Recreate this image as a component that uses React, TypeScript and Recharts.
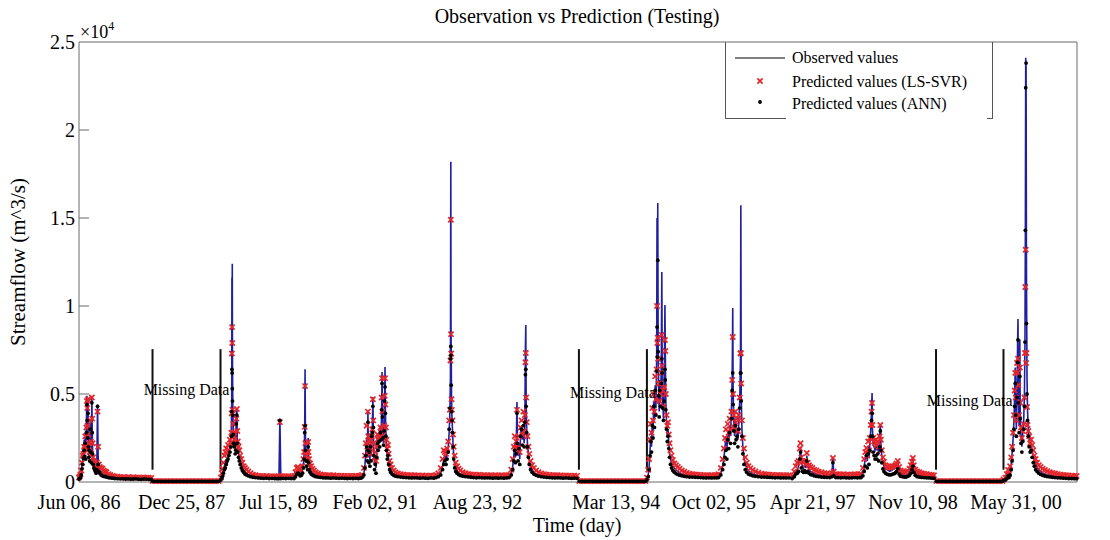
import React from 'react';
import { ComposedChart, Line, Scatter, XAxis, YAxis, ReferenceLine, Legend } from 'recharts';

type Row = [number, number, number, number]; // [day, observed, LS-SVR, ANN]

const seg1986: Row[] = [
  [0, 200, 260, 170], [4, 250, 320, 200], [8, 320, 420, 260], [12, 500, 650, 400],
  [16, 900, 1100, 750], [20, 1250, 1500, 1000], [24, 1700, 1600, 1350], [28, 2400, 2000, 1800],
  [31, 1600, 1850, 1450], [34, 2800, 2600, 2200], [37, 1800, 2000, 1300], [40, 3300, 3100, 2800],
  [43, 4900, 4600, 4400], [45, 3700, 4200, 3500], [47, 2600, 3200, 2500], [49, 4600, 4700, 3900],
  [51, 2100, 2700, 2000], [53, 1500, 2000, 1400], [55, 2400, 2200, 1800], [58, 1600, 1700, 1200],
  [61, 3400, 3500, 3000], [64, 2000, 2300, 1700], [67, 1400, 1600, 1100], [70, 4800, 4800, 4500],
  [72, 3000, 3600, 2800], [74, 1800, 2200, 1600], [77, 1200, 1400, 1000], [81, 1000, 1200, 800],
  [85, 900, 1100, 700], [89, 800, 1000, 600], [93, 700, 900, 500], [97, 1000, 1100, 700],
  [101, 4400, 4000, 4300], [104, 1500, 2000, 1000], [108, 800, 1000, 600], [113, 700, 850, 500],
  [120, 600, 800, 400], [127, 550, 750, 350], [134, 500, 650, 320], [142, 450, 600, 300],
  [150, 400, 550, 280], [160, 350, 450, 250], [170, 300, 400, 230], [182, 280, 350, 220],
  [195, 250, 320, 200], [210, 230, 300, 190], [225, 220, 280, 180], [240, 220, 270, 180],
  [254, 210, 260, 170], [268, 230, 280, 180], [282, 200, 250, 160], [296, 210, 270, 170],
  [310, 220, 260, 180], [324, 200, 250, 160], [338, 190, 240, 150], [352, 210, 260, 170],
  [366, 200, 250, 160], [380, 190, 240, 150], [393, 180, 230, 150],
];

const missing1: Row[] = [
  [400, 40, 50, 40], [415, 40, 50, 40], [430, 40, 50, 40], [445, 40, 50, 40], [460, 40, 50, 40],
  [475, 40, 50, 40], [490, 40, 50, 40], [505, 40, 50, 40], [520, 40, 50, 40], [535, 40, 50, 40],
  [550, 40, 50, 40], [565, 40, 50, 40], [580, 40, 50, 40], [595, 40, 50, 40], [610, 40, 50, 40],
  [625, 40, 50, 40], [640, 40, 50, 40], [655, 40, 50, 40], [670, 40, 50, 40], [685, 40, 50, 40],
  [700, 40, 50, 40], [715, 40, 50, 40], [730, 40, 50, 40], [745, 40, 50, 40], [760, 40, 50, 40],
];

const seg1988: Row[] = [
  [772, 150, 250, 120], [777, 300, 500, 220], [781, 450, 750, 320], [786, 700, 1100, 500],
  [791, 900, 1500, 700], [796, 1100, 1700, 800], [801, 1300, 1900, 1000], [806, 1000, 1600, 1200],
  [811, 1500, 2100, 1300], [816, 1700, 1800, 1500], [821, 2000, 2400, 1700], [826, 2500, 2200, 2000],
  [829, 3000, 2800, 2600], [831, 4500, 3900, 4000], [832, 11600, 7300, 6400], [833, 9000, 8800, 6200],
  [834, 12400, 7900, 5300], [835, 7000, 4100, 4600], [837, 4200, 3900, 3800], [839, 3000, 3300, 2700],
  [841, 2400, 2800, 2200], [844, 2200, 2600, 2000], [847, 2500, 2400, 2100], [850, 1800, 2200, 1600],
  [853, 2300, 2100, 1800], [856, 3800, 3600, 3300], [859, 4200, 4150, 3800], [861, 2500, 2900, 2200],
  [864, 1900, 2300, 1700], [868, 1600, 2000, 1400], [872, 1400, 1800, 1200], [877, 1200, 1500, 1000],
  [883, 1000, 1300, 800], [889, 850, 1100, 650], [896, 700, 900, 550], [903, 600, 800, 450],
  [911, 500, 700, 400], [921, 430, 600, 350], [933, 380, 500, 300], [946, 330, 420, 270],
  [960, 300, 380, 250], [975, 280, 350, 230], [990, 260, 340, 220], [1005, 250, 330, 210],
  [1020, 260, 340, 220], [1035, 240, 320, 200], [1050, 250, 330, 210], [1065, 240, 320, 200],
  [1078, 230, 310, 190], [1088, 250, 320, 200], [1093, 3600, 3400, 3500], [1098, 260, 330, 200],
  [1110, 250, 330, 210], [1125, 240, 320, 200], [1140, 250, 330, 210], [1155, 240, 320, 200],
  [1170, 250, 350, 200], [1178, 400, 550, 300], [1185, 600, 800, 450], [1191, 700, 850, 500],
  [1197, 600, 750, 450], [1203, 450, 600, 350], [1210, 500, 650, 380], [1216, 700, 900, 500],
  [1221, 1100, 1300, 800], [1225, 1600, 1700, 1300], [1228, 3000, 3130, 2800], [1230, 6400, 5450, 3200],
  [1232, 2500, 2200, 1800], [1235, 1500, 1700, 1200], [1238, 1200, 1500, 900], [1241, 1600, 1700, 1200],
  [1244, 1000, 1300, 700], [1247, 2500, 2270, 2000], [1249, 1500, 1700, 1100], [1252, 1000, 1300, 700],
  [1257, 800, 1050, 550], [1263, 650, 900, 450], [1270, 550, 750, 400], [1278, 450, 650, 350],
  [1288, 400, 550, 300], [1300, 350, 480, 280], [1314, 320, 430, 260], [1328, 300, 400, 240],
  [1342, 290, 390, 230], [1356, 280, 380, 230], [1370, 270, 370, 220], [1385, 280, 380, 230],
  [1400, 270, 360, 220], [1415, 260, 350, 210], [1430, 270, 360, 220], [1445, 260, 350, 210],
  [1460, 250, 340, 200], [1475, 260, 350, 210], [1490, 250, 340, 200], [1505, 260, 350, 210],
  [1520, 250, 340, 200], [1532, 270, 360, 220],
];

const seg1990: Row[] = [
  [1540, 300, 400, 250], [1550, 500, 800, 400], [1556, 1000, 1500, 800], [1561, 1800, 2200, 1500],
  [1565, 2500, 3200, 2000], [1569, 1500, 2000, 1200], [1572, 3980, 4000, 3400], [1574, 2200, 2600, 1800],
  [1577, 1400, 1800, 1100], [1580, 2000, 2300, 1700], [1583, 1200, 1600, 900], [1586, 2600, 2400, 2000],
  [1589, 1500, 1900, 1200], [1592, 2200, 2600, 2600], [1596, 3000, 3000, 2800], [1599, 4830, 4700, 4300],
  [1601, 3200, 3500, 3100], [1604, 1800, 2200, 1500], [1608, 1000, 1400, 700], [1612, 1400, 1700, 1000],
  [1616, 800, 1200, 500], [1620, 1800, 2000, 1400], [1624, 2500, 2700, 2200], [1628, 2000, 2400, 1800],
  [1632, 2800, 2500, 2300], [1636, 2300, 2600, 2000], [1640, 3200, 3100, 2800], [1644, 2600, 2800, 2400],
  [1647, 4500, 4800, 4100], [1649, 6250, 5900, 5600], [1651, 3500, 4000, 3700], [1654, 2600, 2900, 2500],
  [1657, 2200, 2500, 2100], [1660, 3000, 3200, 2900], [1663, 4800, 4900, 4600], [1665, 6530, 5900, 5400],
  [1667, 4000, 4400, 3900], [1670, 2800, 3100, 2600], [1673, 2000, 2400, 1800], [1677, 1500, 1900, 1300],
  [1681, 1700, 2100, 1500], [1685, 1200, 1600, 1000], [1690, 900, 1200, 700], [1696, 700, 1000, 550],
  [1703, 550, 800, 450], [1712, 450, 650, 380], [1722, 400, 550, 330], [1735, 350, 480, 300],
  [1750, 330, 450, 280], [1765, 310, 420, 260], [1780, 300, 400, 250], [1795, 290, 390, 240],
  [1810, 280, 380, 230], [1825, 290, 390, 240], [1840, 280, 370, 230], [1855, 270, 360, 220],
  [1870, 280, 370, 230], [1885, 270, 360, 220], [1900, 260, 350, 210], [1915, 280, 370, 230],
  [1930, 270, 360, 220], [1943, 300, 400, 250],
  [1955, 350, 500, 300], [1968, 500, 800, 400], [1978, 900, 1300, 700], [1985, 1300, 1800, 1000],
  [1991, 1500, 1700, 1200], [1997, 1200, 1600, 1000], [2003, 1600, 1900, 1300], [2009, 2000, 2300, 1700],
  [2014, 2800, 3500, 3000], [2018, 4000, 4100, 4200], [2021, 6000, 6900, 7000], [2023, 18200, 14900, 7700],
  [2024, 9000, 8400, 7200], [2025, 7500, 7300, 5500], [2027, 4800, 4700, 4000], [2029, 3800, 4100, 3500],
  [2032, 3000, 3500, 2800], [2035, 2200, 2700, 2000], [2039, 1500, 2000, 1300], [2044, 1000, 1500, 800],
  [2050, 800, 1100, 600], [2057, 650, 900, 500], [2065, 550, 750, 420], [2075, 450, 650, 370],
  [2088, 400, 550, 330], [2102, 370, 500, 310], [2117, 340, 460, 290], [2132, 320, 430, 270],
  [2147, 300, 410, 250], [2162, 290, 400, 240], [2177, 300, 410, 250], [2192, 290, 390, 240],
  [2207, 280, 380, 230], [2222, 290, 390, 240], [2237, 280, 380, 230], [2252, 270, 370, 220],
  [2267, 280, 380, 230], [2282, 270, 370, 220], [2297, 280, 380, 230], [2312, 270, 370, 220],
  [2327, 280, 380, 230],
];

const seg1992: Row[] = [
  [2340, 300, 400, 250], [2352, 500, 700, 400], [2360, 900, 1300, 700], [2366, 1500, 2000, 1200],
  [2371, 2200, 2600, 1800], [2375, 1400, 1900, 1100], [2379, 2000, 2300, 1600], [2383, 4540, 4100, 3900],
  [2385, 2500, 2100, 2200], [2389, 1500, 1900, 1200], [2393, 2200, 2600, 1900], [2398, 1300, 1700, 1000],
  [2403, 2800, 3100, 2600], [2408, 3200, 3500, 3000], [2413, 2400, 2700, 2100], [2418, 3000, 4000, 3200],
  [2422, 2200, 2900, 2000], [2426, 3500, 3800, 3400], [2429, 7700, 6800, 6100], [2431, 8920, 7330, 6400],
  [2433, 4400, 4800, 4300], [2436, 3000, 3400, 2800], [2440, 2200, 2600, 2000], [2445, 1600, 2000, 1400],
  [2450, 1200, 1600, 1000], [2457, 900, 1200, 700], [2465, 700, 950, 550], [2475, 550, 800, 450],
  [2487, 450, 650, 380], [2500, 400, 550, 330], [2515, 350, 480, 300], [2530, 330, 450, 280],
  [2545, 310, 420, 260], [2560, 300, 400, 250], [2575, 290, 390, 240], [2590, 280, 380, 230],
  [2605, 290, 390, 240], [2620, 280, 370, 230], [2635, 270, 360, 220], [2650, 280, 370, 230],
  [2665, 270, 360, 220], [2680, 260, 350, 210], [2695, 270, 360, 220], [2710, 260, 350, 210],
];

const missing2: Row[] = [
  [2722, 40, 50, 40], [2737, 40, 50, 40], [2752, 40, 50, 40], [2767, 40, 50, 40], [2782, 40, 50, 40],
  [2797, 40, 50, 40], [2812, 40, 50, 40], [2827, 40, 50, 40], [2842, 40, 50, 40], [2857, 40, 50, 40],
  [2872, 40, 50, 40], [2887, 40, 50, 40], [2902, 40, 50, 40], [2917, 40, 50, 40], [2932, 40, 50, 40],
  [2947, 40, 50, 40], [2962, 40, 50, 40], [2977, 40, 50, 40], [2992, 40, 50, 40], [3007, 40, 50, 40],
  [3022, 40, 50, 40], [3037, 40, 50, 40], [3052, 40, 50, 40], [3067, 40, 50, 40], [3082, 40, 50, 40],
];

const seg1994: Row[] = [
  [3090, 150, 250, 120], [3097, 400, 700, 300], [3102, 900, 1300, 700], [3107, 1800, 2400, 1500],
  [3111, 2600, 3300, 2300], [3115, 2000, 2800, 1700], [3119, 3500, 4200, 3200], [3123, 2800, 3500, 2500],
  [3127, 4600, 5000, 4300], [3131, 3500, 4000, 3100], [3135, 5500, 6000, 5200], [3139, 4200, 4700, 3800],
  [3143, 7000, 6400, 6300], [3145, 15000, 10000, 8800], [3147, 9000, 7900, 7100], [3149, 15850, 8200, 12600],
  [3151, 8000, 7000, 7400], [3154, 5200, 5600, 4900], [3157, 4000, 4600, 3700], [3160, 5800, 5600, 5200],
  [3164, 4500, 5000, 4300], [3168, 6500, 6200, 5600], [3171, 11930, 8350, 7000], [3173, 7000, 6600, 6200],
  [3176, 4500, 5200, 4200], [3180, 3600, 4300, 3500], [3184, 5000, 5400, 4600], [3188, 10050, 8070, 6400],
  [3190, 7400, 7440, 5800], [3193, 4500, 5000, 4100], [3197, 3300, 3800, 3000], [3201, 2600, 3200, 2300],
  [3205, 3000, 3400, 2600], [3209, 2200, 2700, 1900], [3213, 1700, 2200, 1400], [3218, 1300, 1800, 1000],
  [3224, 1100, 1500, 800], [3231, 900, 1250, 650], [3239, 780, 1050, 560], [3248, 680, 950, 480],
  [3258, 600, 850, 430], [3268, 530, 750, 390], [3280, 470, 660, 350], [3293, 420, 580, 320],
  [3307, 380, 520, 300], [3322, 350, 470, 280], [3337, 330, 450, 280], [3352, 310, 430, 270],
  [3367, 300, 410, 260], [3382, 300, 400, 250], [3397, 290, 390, 240], [3412, 280, 380, 230],
  [3427, 290, 390, 240], [3442, 280, 380, 230], [3457, 290, 390, 240], [3470, 290, 400, 240],
  [3480, 300, 450, 250], [3492, 500, 800, 400], [3502, 900, 1300, 700], [3509, 1400, 1900, 1000],
  [3515, 2000, 2500, 1400], [3520, 2600, 3000, 1800], [3525, 1800, 2400, 1300], [3530, 2900, 3300, 2400],
  [3535, 2300, 2800, 1900], [3540, 3200, 3600, 2800], [3545, 2600, 3000, 2200], [3550, 4200, 4000, 3600],
  [3554, 6000, 5800, 5200], [3557, 9890, 8240, 6200], [3559, 5200, 5000, 4400], [3563, 3400, 3800, 2900],
  [3567, 2600, 3100, 2200], [3571, 3600, 4000, 3200], [3575, 2800, 3400, 2400], [3580, 3000, 3600, 2600],
  [3585, 2400, 2900, 2000], [3590, 3400, 3800, 3000], [3595, 4600, 4800, 4200], [3599, 7000, 7300, 6200],
  [3601, 15730, 7330, 6190], [3603, 5000, 5600, 4600], [3607, 3000, 3500, 2600], [3612, 2000, 2500, 1600],
  [3618, 1400, 1900, 1000], [3625, 1000, 1400, 700], [3633, 800, 1100, 550], [3642, 650, 900, 450],
  [3653, 550, 780, 400], [3666, 480, 680, 350], [3680, 420, 600, 320], [3696, 380, 530, 300],
  [3713, 350, 470, 280], [3728, 330, 450, 280], [3743, 310, 430, 270], [3758, 300, 410, 260],
  [3773, 290, 400, 250], [3788, 280, 390, 240], [3803, 290, 400, 250], [3818, 280, 380, 230],
  [3833, 280, 390, 240], [3848, 270, 380, 230], [3863, 280, 390, 240],
];

const seg1997: Row[] = [
  [3880, 250, 350, 200], [3892, 400, 600, 300], [3900, 600, 900, 450], [3908, 700, 1100, 500],
  [3915, 900, 1200, 600], [3922, 1500, 1900, 1300], [3926, 2000, 2200, 1700], [3930, 1100, 1400, 800],
  [3936, 900, 1200, 600], [3942, 800, 1100, 550], [3948, 1000, 1200, 650], [3955, 800, 1000, 550],
  [3960, 1500, 1650, 1200], [3965, 900, 1100, 600], [3972, 700, 950, 500], [3980, 600, 850, 420],
  [3990, 550, 800, 400], [4000, 500, 700, 350], [4012, 450, 650, 320], [4025, 400, 580, 300],
  [4040, 380, 550, 280], [4055, 350, 500, 270], [4070, 330, 480, 260], [4085, 320, 460, 250],
  [4097, 400, 500, 300], [4102, 1400, 1360, 1100], [4106, 500, 600, 350], [4118, 320, 450, 250],
  [4130, 300, 440, 250], [4145, 290, 430, 240], [4160, 300, 440, 250], [4175, 290, 420, 240],
  [4190, 280, 420, 230], [4205, 290, 430, 240], [4220, 300, 440, 250], [4235, 290, 430, 240],
  [4248, 300, 440, 250],
  [4255, 300, 450, 250], [4265, 500, 800, 350], [4272, 900, 1300, 600], [4278, 1300, 1700, 900],
  [4284, 1800, 1930, 1500], [4289, 1200, 1500, 800], [4294, 2000, 2300, 1600], [4298, 1400, 1800, 1000],
  [4303, 2200, 2500, 1800], [4308, 3000, 3240, 2600], [4312, 4000, 4000, 3500], [4315, 5060, 4490, 3900],
  [4317, 3000, 3240, 2600], [4321, 2200, 2500, 1700], [4326, 2000, 2300, 1500], [4331, 1800, 2200, 1300],
  [4336, 2000, 2400, 1500], [4341, 1800, 2100, 1300], [4346, 2100, 2300, 1600], [4351, 1600, 2000, 1200],
  [4356, 2600, 2600, 2000], [4360, 3300, 3240, 2900], [4363, 2200, 2400, 1800], [4368, 1500, 1800, 1100],
  [4374, 1100, 1400, 750], [4380, 900, 1150, 600], [4388, 750, 950, 500], [4396, 700, 900, 450],
  [4404, 650, 850, 420], [4412, 600, 800, 400], [4420, 650, 850, 420], [4428, 700, 900, 450],
  [4436, 750, 900, 480], [4442, 800, 950, 520], [4448, 900, 1050, 600], [4455, 1100, 1200, 750],
  [4462, 700, 850, 450], [4470, 500, 650, 330], [4480, 420, 600, 300], [4490, 380, 550, 280],
  [4500, 380, 560, 280], [4510, 450, 620, 320], [4518, 550, 750, 380], [4526, 800, 950, 500],
  [4532, 1000, 1150, 700], [4537, 1300, 1360, 900], [4542, 800, 950, 550], [4550, 550, 700, 380],
  [4560, 420, 600, 300], [4572, 380, 550, 280], [4585, 350, 500, 260], [4598, 320, 470, 250],
  [4612, 300, 450, 240], [4626, 280, 420, 230], [4640, 260, 400, 220], [4652, 250, 380, 210],
];

const missing3: Row[] = [
  [4665, 40, 50, 40], [4680, 40, 50, 40], [4695, 40, 50, 40], [4710, 40, 50, 40], [4725, 40, 50, 40],
  [4740, 40, 50, 40], [4755, 40, 50, 40], [4770, 40, 50, 40], [4785, 40, 50, 40], [4800, 40, 50, 40],
  [4815, 40, 50, 40], [4830, 40, 50, 40], [4845, 40, 50, 40], [4860, 40, 50, 40], [4875, 40, 50, 40],
  [4890, 40, 50, 40], [4905, 40, 50, 40], [4920, 40, 50, 40], [4935, 40, 50, 40], [4950, 40, 50, 40],
  [4965, 40, 50, 40], [4980, 40, 50, 40], [4995, 40, 50, 40], [5010, 40, 50, 40], [5025, 40, 50, 40],
];

const seg1999: Row[] = [
  [5030, 100, 150, 90], [5040, 150, 250, 120], [5048, 300, 450, 200], [5055, 500, 680, 350],
  [5060, 350, 450, 250], [5066, 600, 900, 400], [5072, 1000, 1400, 700], [5077, 1600, 2000, 1200],
  [5082, 2400, 2800, 1800], [5087, 3500, 3800, 3000], [5091, 5000, 5200, 4300], [5094, 6500, 6200, 5600],
  [5097, 4200, 4800, 3800], [5100, 3000, 3500, 2600], [5104, 5200, 6760, 4800], [5107, 8000, 6200, 6800],
  [5109, 9260, 7000, 8070], [5111, 5000, 5500, 4500], [5115, 3200, 3800, 2800], [5119, 8100, 6500, 6000],
  [5121, 4000, 4500, 3600], [5125, 2600, 3100, 2200], [5130, 2000, 2500, 1700], [5135, 2800, 2900, 2300],
  [5140, 3500, 3300, 3000], [5144, 5000, 4800, 4300], [5147, 8000, 7330, 7950], [5149, 14000, 11080, 14300],
  [5151, 24100, 13200, 22400], [5153, 23500, 6760, 23800], [5155, 12000, 7330, 9000], [5158, 6000, 4260, 5000],
  [5161, 4000, 3240, 3500], [5165, 3000, 2900, 2600], [5170, 2400, 2600, 2000], [5175, 2000, 2200, 1700],
  [5180, 2200, 2400, 1800], [5186, 1800, 2100, 1400], [5192, 1500, 1800, 1100], [5198, 1200, 1500, 900],
  [5205, 1000, 1300, 700], [5213, 850, 1100, 600], [5222, 700, 950, 500], [5232, 600, 850, 430],
  [5243, 520, 750, 380], [5255, 460, 680, 340], [5268, 420, 620, 310], [5282, 380, 560, 290],
  [5296, 350, 520, 270], [5310, 320, 480, 250], [5325, 300, 450, 240], [5340, 280, 420, 230],
  [5355, 270, 400, 220], [5370, 260, 380, 210], [5385, 250, 370, 200], [5400, 240, 360, 200],
  [5415, 240, 350, 190], [5428, 230, 340, 190],
];

const xTickDays = [0, 558, 1085, 1611, 2168, 2922, 3455, 3991, 4538, 5098];
const xTickLabels = ['Jun 06, 86', 'Dec 25, 87', 'Jul 15, 89', 'Feb 02, 91', 'Aug 23, 92',
  'Mar 13, 94', 'Oct 02, 95', 'Apr 21, 97', 'Nov 10, 98', 'May 31, 00'];
const yTicks = [0, 5000, 10000, 15000, 20000, 25000];
const missingPeriods: [number, number][] = [[400, 770], [2720, 3090], [4663, 5030]];
const missingLabelLevels = [5250, 5080, 4660];
const missingLineRange: [number, number] = [700, 7550];

const rows = [...seg1986, ...missing1, ...seg1988, ...seg1990, ...seg1992, ...missing2,
  ...seg1994, ...seg1997, ...missing3, ...seg1999]
  .map(([day, observed, lssvr, ann]) => ({ day, observed, lssvr, ann }));

const FONT = '"Liberation Serif", "Times New Roman", Times, serif';
const BLUE = '#1f1fa0';
const RED = '#e3262b';
const AXIS = '#6b6b6b';

const XMark = (props: any) => {
  const { cx, cy } = props;
  if (cx == null || cy == null) return null;
  const s = 2.6;
  return (
    <g stroke={RED} strokeWidth={1.7}>
      <line x1={cx - s} y1={cy - s} x2={cx + s} y2={cy + s} />
      <line x1={cx - s} y1={cy + s} x2={cx + s} y2={cy - s} />
    </g>
  );
};

const DotMark = (props: any) => {
  const { cx, cy } = props;
  if (cx == null || cy == null) return null;
  return <circle cx={cx} cy={cy} r={1.9} fill="#000" />;
};

const LeftTick = (props: any) => {
  const { x, y, payload } = props;
  const v = payload.value;
  return (
    <g>
      <text x={x} y={y} dy="0.35em" textAnchor="end" fontSize={20} fill="#000" fontFamily={FONT}>
        {v / 10000}
      </text>
      {v > 0 && v < 25000 && <line x1={x + 4} x2={x + 14} y1={y} y2={y} stroke={AXIS} />}
    </g>
  );
};

const RightTick = (props: any) => {
  const { x, y, payload } = props;
  const v = payload.value;
  if (!(v > 0 && v < 25000)) return null;
  return <line x1={x - 10} x2={x} y1={y} y2={y} stroke={AXIS} />;
};

const LegendBox = () => (
  <svg width={270} height={80} style={{ display: 'block', overflow: 'visible' }} fontFamily={FONT}>
    <line x1={0.5} y1={0} x2={0.5} y2={76} stroke="#555" />
    <line x1={0} y1={76.5} x2={61} y2={76.5} stroke="#555" />
    <line x1={267.5} y1={0} x2={267.5} y2={77} stroke="#555" />
    <line x1={262} y1={76.5} x2={268} y2={76.5} stroke="#555" />
    <line x1={10} y1={16} x2={60} y2={16} stroke="#000" />
    <text x={67} y={21} fontSize={16} fill="#000">Observed values</text>
    <XMark cx={35} cy={39} />
    <text x={67} y={45} fontSize={16} fill="#000">Predicted values (LS-SVR)</text>
    <DotMark cx={35} cy={60} />
    <text x={67} y={67} fontSize={16} fill="#000">Predicted values (ANN)</text>
  </svg>
);

export default function App() {
  return (
    <div style={{ position: 'absolute', left: 0, top: 0, width: 1110, height: 540, background: '#fff', fontFamily: FONT, color: '#000' }}>
      <ComposedChart width={1110} height={540} data={rows} margin={{ top: 42, right: 23, bottom: 28, left: 0 }}>
        <XAxis
          dataKey="day"
          type="number"
          domain={[0, 5430]}
          ticks={xTickDays}
          interval={0}
          tickFormatter={(v: number) => xTickLabels[xTickDays.indexOf(v)] ?? ''}
          tick={{ fontSize: 20, fill: '#000', fontFamily: FONT }}
          tickLine={false}
          tickSize={0}
          tickMargin={13}
          height={30}
          axisLine={{ stroke: AXIS }}
        />
        <YAxis
          type="number"
          domain={[0, 25000]}
          ticks={yTicks}
          interval={0}
          tick={<LeftTick />}
          tickLine={false}
          tickSize={0}
          tickMargin={4}
          width={79}
          axisLine={{ stroke: AXIS }}
        />
        <YAxis
          yAxisId="right"
          orientation="right"
          type="number"
          domain={[0, 25000]}
          ticks={yTicks}
          interval={0}
          tick={<RightTick />}
          tickLine={false}
          tickSize={0}
          tickMargin={0}
          width={10}
          axisLine={{ stroke: AXIS }}
        />
        <ReferenceLine y={25000} stroke={AXIS} />
        {missingPeriods.map(([a, b], i) => (
          <ReferenceLine key={`ma${i}`} segment={[{ x: a, y: missingLineRange[0] }, { x: a, y: missingLineRange[1] }]} stroke="#111" strokeWidth={2} />
        ))}
        {missingPeriods.map(([a, b], i) => (
          <ReferenceLine key={`mb${i}`} segment={[{ x: b, y: missingLineRange[0] }, { x: b, y: missingLineRange[1] }]} stroke="#111" strokeWidth={2} />
        ))}
        {missingPeriods.map(([a, b], i) => (
          <ReferenceLine
            key={`ml${i}`}
            segment={[{ x: a, y: missingLabelLevels[i] }, { x: b, y: missingLabelLevels[i] }]}
            stroke="none"
            label={{ value: 'Missing Data', position: 'center', fontSize: 16, fill: '#000', fontFamily: FONT }}
          />
        ))}
        <Line dataKey="observed" type="linear" stroke={BLUE} strokeWidth={1.6} dot={false} activeDot={false} isAnimationActive={false} />
        <Scatter dataKey="lssvr" shape={XMark} isAnimationActive={false} />
        <Scatter dataKey="ann" shape={DotMark} isAnimationActive={false} />
        <Legend
          layout="vertical"
          align="center"
          verticalAlign="middle"
          wrapperStyle={{ position: 'absolute', left: 725, top: 42, width: 270, height: 80 }}
          content={() => <LegendBox />}
        />
      </ComposedChart>
      <div style={{ position: 'absolute', left: 277, top: 4, width: 600, textAlign: 'center', fontSize: 20, lineHeight: '24px' }}>
        Observation vs Prediction (Testing)
      </div>
      <div style={{ position: 'absolute', left: 80, top: 20, fontSize: 18, lineHeight: '24px' }}>
        ×10<span style={{ fontSize: 12, position: 'relative', top: -8 }}>4</span>
      </div>
      <div style={{ position: 'absolute', left: 277, top: 513, width: 600, textAlign: 'center', fontSize: 20, lineHeight: '24px' }}>
        Time (day)
      </div>
      <div style={{ position: 'absolute', left: 18 - 150, top: 262 - 12, width: 300, height: 24, textAlign: 'center', fontSize: 21, lineHeight: '24px', transform: 'rotate(-90deg)' }}>
        Streamflow (m^3/s)
      </div>
    </div>
  );
}
